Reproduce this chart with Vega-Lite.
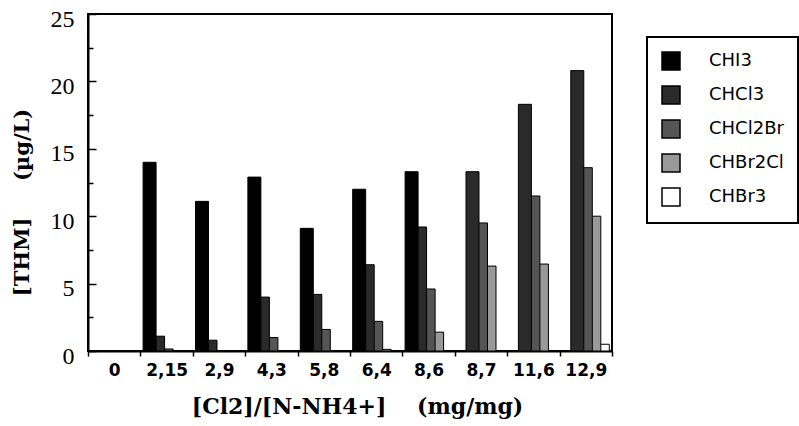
{
  "$schema": "https://vega.github.io/schema/vega-lite/v6.json",
  "width": 524,
  "height": 337,
  "autosize": "none",
  "padding": {"left": 88, "top": 14, "right": 187, "bottom": 75},
  "background": "white",
  "config": {
    "view": {"stroke": "black", "strokeWidth": 2},
    "legend": {"strokeWidth": 2}
  },
  "data": {
    "values": [
      {"ratio": "12,9", "compound": "CHBr3", "thm": 0.5},
      {"ratio": "6,4", "compound": "CHBr2Cl", "thm": 0.12},
      {"ratio": "8,6", "compound": "CHBr2Cl", "thm": 1.4},
      {"ratio": "8,7", "compound": "CHBr2Cl", "thm": 6.3},
      {"ratio": "11,6", "compound": "CHBr2Cl", "thm": 6.45},
      {"ratio": "12,9", "compound": "CHBr2Cl", "thm": 10.0},
      {"ratio": "2,15", "compound": "CHCl2Br", "thm": 0.15},
      {"ratio": "4,3", "compound": "CHCl2Br", "thm": 1.0},
      {"ratio": "5,8", "compound": "CHCl2Br", "thm": 1.6},
      {"ratio": "6,4", "compound": "CHCl2Br", "thm": 2.2},
      {"ratio": "8,6", "compound": "CHCl2Br", "thm": 4.6},
      {"ratio": "8,7", "compound": "CHCl2Br", "thm": 9.5},
      {"ratio": "11,6", "compound": "CHCl2Br", "thm": 11.5},
      {"ratio": "12,9", "compound": "CHCl2Br", "thm": 13.6},
      {"ratio": "2,15", "compound": "CHCl3", "thm": 1.1},
      {"ratio": "2,9", "compound": "CHCl3", "thm": 0.8},
      {"ratio": "4,3", "compound": "CHCl3", "thm": 4.0},
      {"ratio": "5,8", "compound": "CHCl3", "thm": 4.2},
      {"ratio": "6,4", "compound": "CHCl3", "thm": 6.4},
      {"ratio": "8,6", "compound": "CHCl3", "thm": 9.2},
      {"ratio": "8,7", "compound": "CHCl3", "thm": 13.3},
      {"ratio": "11,6", "compound": "CHCl3", "thm": 18.3},
      {"ratio": "12,9", "compound": "CHCl3", "thm": 20.8},
      {"ratio": "2,15", "compound": "CHI3", "thm": 14.0},
      {"ratio": "2,9", "compound": "CHI3", "thm": 11.1},
      {"ratio": "4,3", "compound": "CHI3", "thm": 12.9},
      {"ratio": "5,8", "compound": "CHI3", "thm": 9.1},
      {"ratio": "6,4", "compound": "CHI3", "thm": 12.0},
      {"ratio": "8,6", "compound": "CHI3", "thm": 13.3}
    ]
  },
  "mark": {"type": "bar", "width": 13, "stroke": "black", "strokeWidth": 1},
  "encoding": {
    "x": {
      "field": "ratio",
      "type": "nominal",
      "scale": {
        "domain": ["0", "2,15", "2,9", "4,3", "5,8", "6,4", "8,6", "8,7", "11,6", "12,9"],
        "paddingInner": 0,
        "paddingOuter": 0
      },
      "axis": {
        "title": "[Cl2]/[N-NH4+]\u00a0\u00a0\u00a0\u00a0(mg/mg)",
        "titleFont": "DejaVu Serif",
        "titleFontSize": 22,
        "titleFontWeight": "bold",
        "titleColor": "black",
        "titleBaseline": "alphabetic",
        "titleX": 269,
        "titleY": 62,
        "labelAngle": 0,
        "labelFont": "DejaVu Sans",
        "labelFontWeight": "bold",
        "labelFontSize": 17,
        "labelColor": "black",
        "labelPadding": 6,
        "tickBand": "extent",
        "tickSize": 5,
        "tickWidth": 1.5,
        "tickColor": "black",
        "domainColor": "black",
        "domainWidth": 2
      }
    },
    "xOffset": {
      "field": "compound",
      "type": "nominal",
      "scale": {
        "domain": ["CHI3", "CHCl3", "CHCl2Br", "CHBr2Cl", "CHBr3"],
        "paddingInner": 0,
        "paddingOuter": 0.58
      }
    },
    "y": {
      "field": "thm",
      "type": "quantitative",
      "stack": null,
      "scale": {"domain": [0, 25], "nice": false},
      "axis": {
        "title": "[THM]\u00a0\u00a0\u00a0\u00a0\u00a0(µg/L)",
        "titleFont": "DejaVu Serif",
        "titleFontSize": 21,
        "titleFontWeight": "bold",
        "titleColor": "black",
        "titleBaseline": "middle",
        "titleX": -66,
        "titleY": 188,
        "values": [0, 2.5, 5, 7.5, 10, 12.5, 15, 17.5, 20, 22.5, 25],
        "labelExpr": "datum.value % 5 === 0 ? datum.label : ''",
        "labelFont": "Liberation Serif",
        "labelFontSize": 24,
        "labelColor": "black",
        "labelPadding": 22,
        "labelOffset": 5,
        "grid": false,
        "tickSize": {"condition": {"test": "datum.value % 5 === 0", "value": -8}, "value": -5},
        "tickWidth": 1.5,
        "tickColor": "black",
        "domainColor": "black",
        "domainWidth": 2
      }
    },
    "color": {
      "field": "compound",
      "type": "nominal",
      "scale": {
        "domain": ["CHI3", "CHCl3", "CHCl2Br", "CHBr2Cl", "CHBr3"],
        "range": ["#000000", "#2a2a2a", "#555555", "#999999", "#ffffff"]
      },
      "legend": {
        "title": null,
        "orient": "none",
        "legendX": 559,
        "legendY": 23,
        "strokeColor": "black",
        "padding": 14,
        "symbolType": "square",
        "symbolSize": 324,
        "symbolStrokeColor": "black",
        "symbolStrokeWidth": 1.5,
        "symbolOpacity": 1,
        "labelFont": "DejaVu Sans",
        "labelFontSize": 18,
        "labelColor": "black",
        "labelOffset": 28,
        "rowPadding": 10,
        "labelLimit": 200
      }
    }
  }
}
